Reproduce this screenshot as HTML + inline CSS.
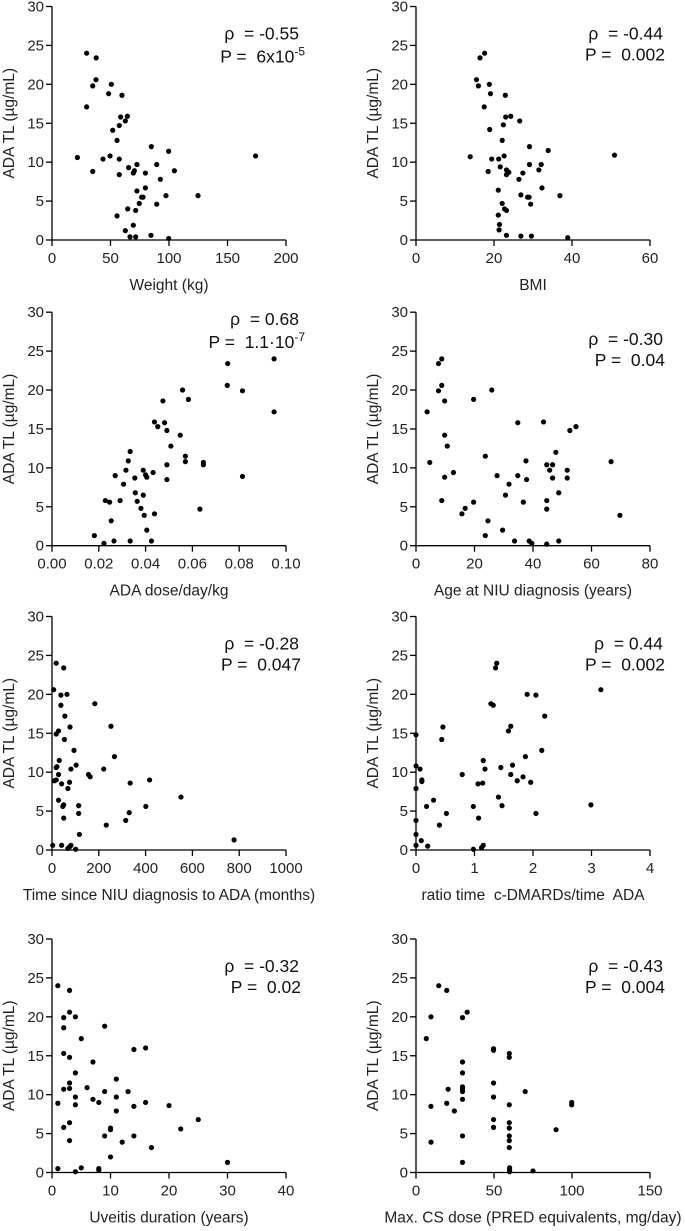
<!DOCTYPE html>
<html><head><meta charset="utf-8"><style>
body{margin:0;background:#fff}
svg{display:block;font-family:"Liberation Sans",Arial,sans-serif}
text{white-space:pre}
</style></head><body>
<svg id="chart" width="685" height="1231" viewBox="0 0 685 1231" xmlns="http://www.w3.org/2000/svg" xml:space="preserve"></svg>
<script>
// Panel 1: Weight
const weightX=[29.6,37.8,37.6,34.8,50.7,48.4,59.8,29.6,58.7,64.4,62.7,57.5,51.9,55.6,84.9,99.7,174,21.7,49.6,43.6,57.5,65.5,72.6,89.5,70.4,69.5,34.8,57.5,79.8,104.6,92.6,72.6,79.8,77.8,76.6,97.4,124.8,74.6,89.5,64.7,71.5,55.6,69.5,62.7,66.7,71.5,84.6,99.7];
const weightY=[24.0,23.4,20.6,19.8,20.0,18.8,18.6,17.1,15.8,15.9,15.3,14.7,14.1,12.8,12.0,11.4,10.8,10.6,10.8,10.4,10.4,9.3,9.7,9.7,8.9,8.6,8.8,8.4,8.6,8.9,7.8,6.3,6.7,5.5,5.5,5.7,5.7,4.7,4.6,4.0,3.8,3.1,1.9,1.2,0.4,0.4,0.6,0.2];
// Panel 2: BMI
const bmiX=[17.6,16.4,15.5,16.0,18.8,19.1,22.9,17.5,23.0,24.3,26.6,22.4,18.9,22.1,29.1,33.9,50.9,13.9,22.6,19.4,21.2,21.6,29.1,32.1,23.2,23.8,18.5,23.2,27.4,31.5,26.4,21.1,32.3,28.6,29.0,26.9,36.9,22.1,29.4,22.7,23.2,21.1,21.4,21.3,23.2,26.9,29.6,38.9];
const bmiY=[24.0,23.4,20.6,19.8,20.0,18.8,18.6,17.1,15.8,15.9,15.3,14.8,14.2,12.8,12.0,11.5,10.9,10.7,10.8,10.4,10.4,9.4,9.7,9.7,9.0,8.7,8.8,8.4,8.6,9.0,7.8,6.4,6.7,5.5,5.5,5.8,5.7,4.7,4.6,4.0,3.8,3.2,2.0,1.3,0.6,0.5,0.5,0.3];
// Panel 3: ADA dose/day/kg
const doseX=[.0949,.0751,.0749,.0814,.0558,.0583,.0474,.0949,.0438,.0481,.0452,.0491,.0548,.0508,.0334,.0326,.0570,.0570,.0647,.0647,.0491,.0316,.0390,.0432,.0400,.0405,.0270,.0354,.0814,.0491,.0306,.0356,.0390,.0291,.0364,.0228,.0246,.0380,.0632,.0438,.0394,.0253,.0405,.0181,.0334,.0265,.0425,.0222];
const doseY=[24.0,23.4,20.6,19.9,20.0,18.8,18.6,17.2,15.9,15.8,15.3,14.8,14.2,12.8,12.1,10.9,11.5,10.8,10.7,10.4,10.4,9.7,9.7,9.4,9.1,8.8,9.0,8.7,8.9,8.5,7.9,6.8,6.5,5.8,5.7,5.8,5.6,4.8,4.7,4.1,3.9,3.2,2.0,1.3,0.6,0.6,0.6,0.3];
// Panel 4: Age at NIU diagnosis
const ageX=[8.8,7.7,8.8,7.7,25.9,19.7,9.8,3.8,34.8,43.6,54.7,52.6,9.8,10.7,47.8,23.7,37.6,4.7,66.7,44.7,46.7,45.7,51.7,12.8,27.7,34.8,9.8,46.7,51.7,37.8,31.8,48.8,30.6,8.8,44.7,19.7,36.7,16.8,44.7,15.7,69.7,24.6,29.6,23.7,33.7,38.7,48.8,39.6,44.7];
const ageY=[24.0,23.4,20.6,19.9,20.0,18.8,18.6,17.2,15.8,15.9,15.3,14.8,14.2,12.8,12.0,11.5,10.9,10.7,10.8,10.4,10.4,9.7,9.7,9.4,9.0,9.0,8.8,8.7,8.7,8.5,7.9,6.8,6.5,5.8,5.8,5.6,5.6,4.8,4.7,4.1,3.9,3.2,2.0,1.3,0.6,0.6,0.6,0.3,0.2];
// Panel 5: Time since NIU diagnosis to ADA
const timeX=[18,50,7,38,64,38,183,55,77,252,28,18,53,94,31,267,21,18,103,81,221,156,163,28,18,10,41,75,334,417,68,551,28,50,46,114,401,114,330,50,315,232,117,778,3,41,81,68,101,75];
const timeY=[24.0,23.4,20.6,19.9,20.0,18.6,18.8,17.2,15.8,15.9,15.3,14.9,14.2,12.8,11.5,12.0,10.7,10.6,10.9,10.4,10.4,9.7,9.4,9.7,9.0,8.9,8.5,8.7,8.6,9.0,7.9,6.8,6.4,5.8,5.6,5.7,5.6,4.7,4.8,4.1,3.8,3.2,2.0,1.3,0.6,0.6,0.6,0.2,0.1,0.4];
// Panel 6: ratio time c-DMARDs/time ADA
const ratioX=[1.38,1.36,3.16,1.90,2.05,1.28,1.32,2.20,0,0.46,0.44,1.62,1.58,2.15,1.87,1.15,0,0.07,1.18,1.45,1.65,0.79,1.62,1.83,0.10,0.10,1.73,1.96,1.14,1.06,0,1.41,0.30,0.18,0.98,1.47,2.99,0.52,2.05,1.07,0,0.40,0,0.09,0,0.20,0.98,1.15,1.12];
const ratioY=[24.0,23.4,20.6,20.0,19.9,18.8,18.6,17.2,14.8,15.8,14.2,15.9,15.3,12.8,12.0,11.5,10.8,10.4,10.4,10.6,10.9,9.7,9.7,9.4,9.0,8.8,8.9,8.7,8.6,8.5,7.9,6.8,6.4,5.6,5.6,5.7,5.8,4.7,4.7,4.1,3.8,3.2,2.0,1.2,0.6,0.5,0.1,0.6,0.3];
// Panel 7: Uveitis duration
const uveX=[1,3,2,3,4,2,9,5,2,3,7,14,16,4,11,3,3,2,6,9,13,4,11,7,8,1,4,14,16,20,11,25,3,2,10,10,22,9,14,3,12,17,10,30,1,5,8,8,4];
const uveY=[24.0,23.4,19.9,20.6,20.0,18.6,18.8,17.2,15.3,14.8,14.2,15.8,16.0,12.8,12.0,11.5,10.8,10.7,10.9,10.4,10.4,9.7,9.7,9.4,9.0,8.9,8.7,8.5,9.0,8.6,7.9,6.8,6.4,5.8,5.7,5.5,5.6,4.7,4.7,4.1,3.9,3.2,2.0,1.3,0.5,0.6,0.5,0.3,0.1];
// Panel 8: Max CS dose
const csX=[14.6,19.7,9.6,29.8,32.8,6.6,49.7,49.7,59.8,59.8,29.8,29.8,49.7,29.8,29.8,20.6,29.8,70,49.7,29.8,19.7,9.6,59.8,24.6,99.8,99.8,49.7,59.8,49.7,59.8,89.8,29.8,59.8,59.8,9.6,59.8,29.8,60,60,60,75];
const csY=[24.0,23.4,20.0,19.9,20.6,17.2,15.9,15.7,15.3,14.8,14.2,12.8,11.5,11.0,10.7,10.7,10.4,10.4,9.7,9.4,8.9,8.5,8.7,7.9,9.0,8.7,6.8,6.4,5.8,5.7,5.5,4.7,4.7,4.1,3.9,3.2,1.3,0.6,0.3,0.1,0.2];

const yTicks=[0,5,10,15,20,25,30];

const panels=[
 {name:'weight',xs:weightX,ys:weightY,col:0,row:0,xmax:200,xticks:['0','50','100','150','200'],title:'Weight (kg)',rho:'-0.55',p:['6x10','-5'],ry:27,py:50},
 {name:'bmi',xs:bmiX,ys:bmiY,col:1,row:0,xmax:60,xticks:['0','20','40','60'],title:'BMI',rho:'-0.44',p:['0.002'],ry:27,py:48},
 {name:'ada-dose',xs:doseX,ys:doseY,col:0,row:1,xmax:0.10,xticks:['0.00','0.02','0.04','0.06','0.08','0.10'],title:'ADA dose/day/kg',rho:'0.68',p:['1.1·10','-7'],ry:7,py:30},
 {name:'age',xs:ageX,ys:ageY,col:1,row:1,xmax:80,xticks:['0','20','40','60','80'],title:'Age at NIU diagnosis (years)',rho:'-0.30',p:['0.04'],ry:27,py:48},
 {name:'time-to-ada',xs:timeX,ys:timeY,col:0,row:2,xmax:1000,xticks:['0','200','400','600','800','1000'],title:'Time since NIU diagnosis to ADA (months)',rho:'-0.28',p:['0.047'],ry:27,py:48},
 {name:'ratio',xs:ratioX,ys:ratioY,col:1,row:2,xmax:4,xticks:['0','1','2','3','4'],title:'ratio time  c-DMARDs/time  ADA',rho:'0.44',p:['0.002'],ry:27,py:48},
 {name:'uveitis',xs:uveX,ys:uveY,col:0,row:3,xmax:40,xticks:['0','10','20','30','40'],title:'Uveitis duration (years)',rho:'-0.32',p:['0.02'],ry:27,py:48},
 {name:'cs-dose',xs:csX,ys:csY,col:1,row:3,xmax:150,xticks:['0','50','100','150'],title:'Max. CS dose (PRED equivalents, mg/day)',rho:'-0.43',p:['0.004'],ry:27,py:48}
];
const rowBase=[240,545.7,850,1172.5];
const colLeft=[52,416];
const W=234, H=233.5;
const NS='http://www.w3.org/2000/svg';
const svg=document.getElementById('chart');
function mk(tag,attrs,parent){const e=document.createElementNS(NS,tag);for(const k in attrs)e.setAttribute(k,attrs[k]);parent.appendChild(e);return e;}

panels.forEach(pn=>{
  const x0=colLeft[pn.col], y0=rowBase[pn.row];
  const g=mk('g',{},svg);
  
  
  const sx=v=>x0+v/pn.xmax*W;
  const sy=v=>y0-v/30*H;
  const ax=mk('path',{d:`M${x0},${y0-H}V${y0}H${x0+W}`,stroke:'#000','stroke-width':1.3,fill:'none'},g);
  
  
  yTicks.forEach(t=>{
    mk('line',{x1:x0-6,x2:x0,y1:sy(t),y2:sy(t),stroke:'#000','stroke-width':1.3},g);
    const tl=mk('text',{x:x0-8,y:sy(t)+5,'text-anchor':'end','font-size':15,fill:'#222'},g);
    tl.textContent=t;
    
    
  });
  const n=pn.xticks.length-1;
  pn.xticks.forEach((t,i)=>{
    const xx=x0+i/n*W;
    mk('line',{x1:xx,x2:xx,y1:y0,y2:y0+6,stroke:'#000','stroke-width':1.3},g);
    const tl=mk('text',{x:xx,y:y0+23,'text-anchor':'middle','font-size':15,fill:'#222'},g);
    tl.textContent=t;
    
    
  });
  const xt=mk('text',{x:x0+W/2,y:y0+50,'text-anchor':'middle','font-size':15.5,fill:'#222'},g);
  xt.textContent=pn.title;
  
  
  const yx=x0-38, yy=y0-H/2;
  const yt=mk('text',{x:yx,y:yy,'text-anchor':'middle','font-size':15.5,fill:'#222',transform:`rotate(-90 ${yx} ${yy})`},g);
  yt.textContent='ADA TL (µg/mL)';
  
  
  pn.xs.forEach((v,i)=>{
    const c=mk('circle',{cx:sx(v),cy:sy(pn.ys[i]),r:2.6,fill:'#000'},g);
    
    
  });
  const ex=x0+247;
  const r=mk('text',{x:ex,y:y0-H+pn.ry+6,'text-anchor':'end','font-size':17.5,fill:'#111'},g);
  r.textContent='ρ  = '+pn.rho;
  
  
  const p=mk('text',{x:ex+(pn.p.length>1?6:2),y:y0-H+pn.py+6,'text-anchor':'end','font-size':17.5,fill:'#111'},g);
  
  
  const t1=mk('tspan',{},p); t1.textContent='P =  '+pn.p[0];
  if(pn.p.length>1){const t2=mk('tspan',{dy:-7,'font-size':12},p);t2.textContent=pn.p[1];}
});
</script>
</body></html>
